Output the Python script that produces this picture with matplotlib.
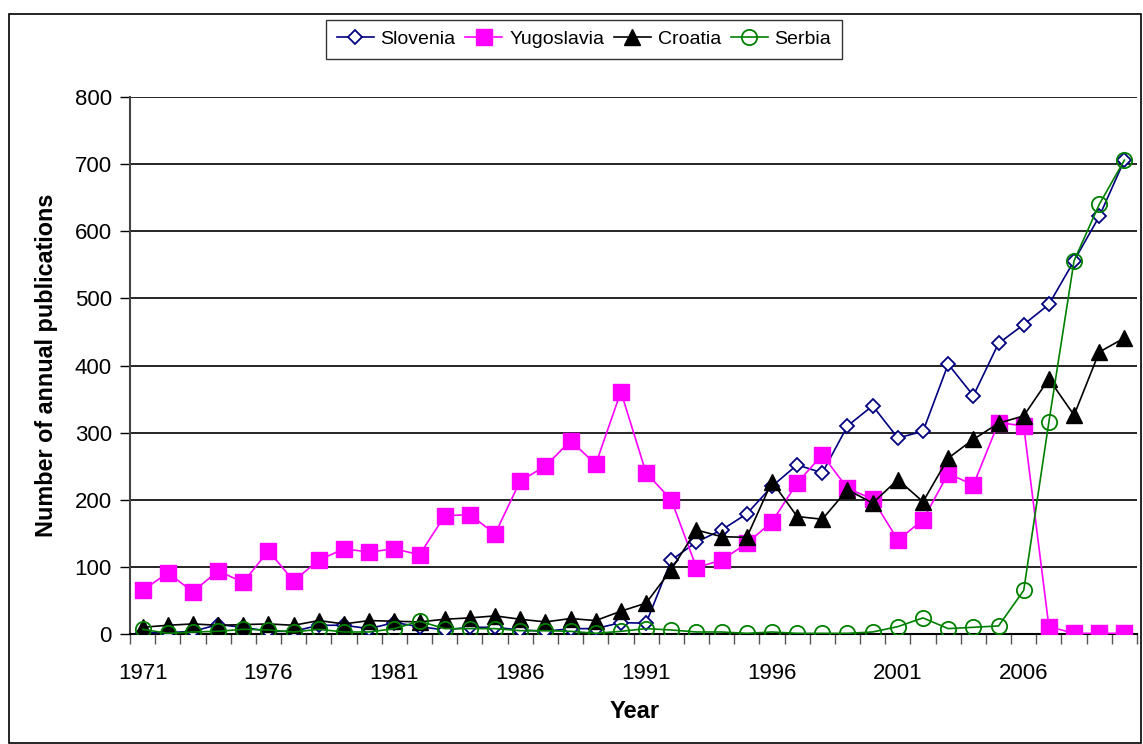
import matplotlib
matplotlib.use("Agg")
import matplotlib.pyplot as plt
from matplotlib.patches import Rectangle
from matplotlib.ticker import FixedLocator

plt.rcParams['font.family'] = ['Liberation Sans', 'DejaVu Sans']

years = list(range(1971, 2011))
slovenia = [2, 2, 4, 14, 10, 4, 4, 13, 13, 8, 17, 11, 6, 10, 10, 6, 4, 8, 8, 17,
            16, 110, 137, 155, 179, 220, 252, 240, 310, 340, 292, 302, 402, 355, 433, 461,
            491, 556, 622, 706]
yugoslavia = [65, 91, 63, 94, 77, 124, 79, 110, 127, 122, 127, 118, 176, 178, 149, 228,
              250, 288, 253, 361, 240, 200, 99, 110, 135, 167, 225, 267, 217, 201, 140, 170,
              239, 222, 315, 310, 11, 1, 1, 1]
croatia = [10, 13, 15, 13, 14, 15, 13, 20, 15, 20, 19, 18, 22, 24, 27, 22, 18, 23, 20, 34,
           46, 96, 155, 145, 144, 227, 175, 171, 215, 195, 230, 197, 262, 290, 314, 325,
           380, 326, 420, 441]
serbia = [7, 1, 3, 4, 7, 6, 3, 7, 3, 3, 8, 19, 8, 8, 8, 5, 5, 4, 1, 4, 8, 6, 3, 3, 1, 3,
          1, 1, 1, 3, 11, 24, 8, 10, 12, 65, 316, 556, 640, 706]
series_names = ["Slovenia", "Yugoslavia", "Croatia", "Serbia"]
xtick_years = [1971, 1976, 1981, 1986, 1991, 1996, 2001, 2006]
yticks = [0, 100, 200, 300, 400, 500, 600, 700, 800]

W, H = 1143, 744
fig = plt.figure(figsize=(W / 100, H / 100), dpi=100)
ax = fig.add_axes([130 / W, 1 - 634 / H, (1137 - 130) / W, (634 - 97) / H])

ax.plot(years, slovenia, color='#000080', lw=1.2, marker='D', ms=7.5,
        mfc='white', mec='#000080', mew=1.3, label=series_names[0], zorder=3)
ax.plot(years, yugoslavia, color='#FF00FF', lw=1.2, marker='s', ms=11,
        mfc='#FF00FF', mec='#FF00FF', label=series_names[1], zorder=4)
ax.plot(years, croatia, color='black', lw=1.2, marker='^', ms=12,
        mfc='black', mec='black', label=series_names[2], zorder=5)
ax.plot(years, serbia, color='#008000', lw=1.2, marker='o', ms=11,
        mfc='none', mec='#008000', mew=1.3, label=series_names[3], zorder=6)

ax.set_xlim(1970.5, 2010.5)
ax.set_ylim(0, 800)
ax.set_yticks(yticks)
ax.yaxis.grid(True, color='black', lw=1.2)
ax.set_axisbelow(True)
ax.xaxis.set_major_locator(FixedLocator(xtick_years))
ax.xaxis.set_minor_locator(FixedLocator([y + 0.5 for y in range(1970, 2011)]))
ax.tick_params(axis='x', which='major', length=0, pad=21, labelsize=16)
ax.tick_params(axis='x', which='minor', length=7, width=1, color='#555555', direction='out')
ax.tick_params(axis='y', which='major', length=7, width=1, labelsize=16, pad=6)

for s in ['top', 'right']:
    ax.spines[s].set_visible(False)
ax.spines['left'].set_color('#444444')
ax.spines['left'].set_linewidth(1.5)
ax.spines['bottom'].set_color('black')
ax.spines['bottom'].set_linewidth(1.5)

fig.text(47 / W, 1 - 365 / H, "Number of annual publications", rotation=90,
         ha='center', va='center', fontsize=16.8, fontweight='bold')
fig.text(635 / W, 1 - 712 / H, "Year", ha='center', va='center',
         fontsize=17, fontweight='bold')

leg = fig.legend(loc='center', bbox_to_anchor=(584 / W, 1 - 39.5 / H), ncol=4,
                 frameon=True, fancybox=False, edgecolor='black', fontsize=14,
                 handlelength=1.9, handletextpad=0.35, columnspacing=0.5,
                 borderpad=0.55, borderaxespad=0)
leg.get_frame().set_linewidth(1.0)

fig.patches.append(Rectangle((9 / W, 1 / H), (1141 - 9) / W, (730 - 1) / H,
                             transform=fig.transFigure, fill=False,
                             edgecolor='black', lw=1.2))

fig.savefig("out.png", dpi=100)
